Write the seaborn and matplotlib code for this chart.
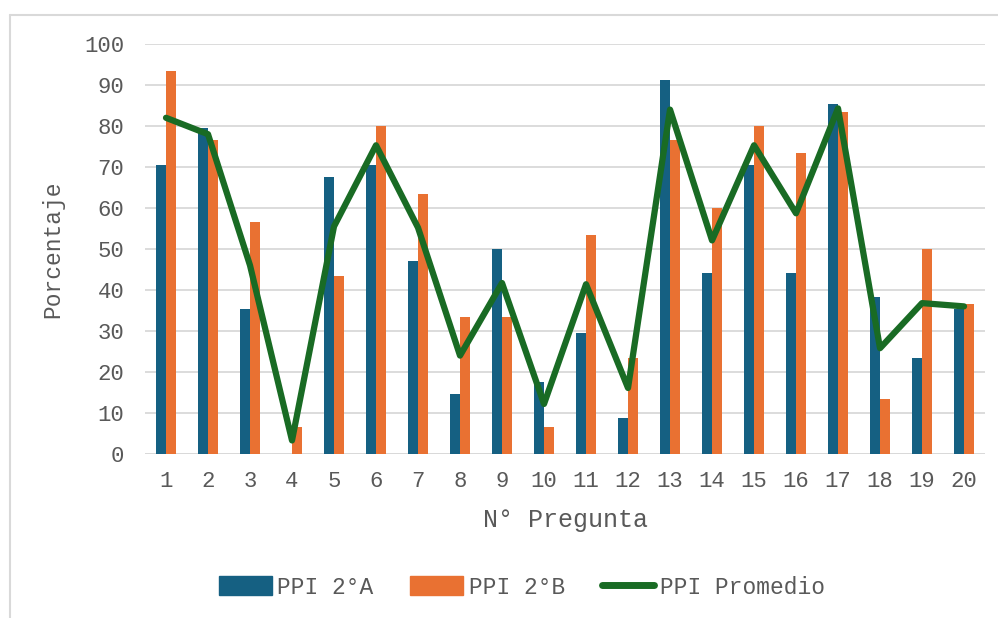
import numpy as np
import pandas as pd
import seaborn as sns
import matplotlib.pyplot as plt
from matplotlib.lines import Line2D
from matplotlib.patches import Patch

# data
preguntas = [str(i) for i in range(1, 21)]
ppi_2a = [70.6, 79.4, 35.3, 0.0, 67.6, 70.6, 47.1, 14.7, 50.0, 17.6,
          29.4, 8.8, 91.2, 44.1, 70.6, 44.1, 85.3, 38.2, 23.5, 35.3]
ppi_2b = [93.3, 76.7, 56.7, 6.7, 43.3, 80.0, 63.3, 33.3, 33.3, 6.7,
          53.3, 23.3, 76.7, 60.0, 80.0, 73.3, 83.3, 13.3, 50.0, 36.7]
ppi_prom = [82.0, 78.0, 46.0, 3.3, 55.5, 75.3, 55.2, 24.0, 41.7, 12.2,
            41.4, 16.1, 84.0, 52.1, 75.3, 58.7, 84.3, 25.8, 36.8, 36.0]

azul = '#156082'
naranja = '#E97132'
verde = '#196B24'
gris = '#595959'
grid_c = '#D9D9D9'

df = pd.DataFrame({'pregunta': preguntas * 2,
                   'valor': ppi_2a + ppi_2b,
                   'grupo': ['PPI 2°A'] * 20 + ['PPI 2°B'] * 20})

sns.set_style('white')
plt.rcParams['font.family'] = ['Liberation Mono', 'DejaVu Sans Mono']

fig = plt.figure(figsize=(9.98, 6.18), dpi=100)
ax = fig.add_axes([0.1453, 0.2654, 0.8417, 0.6634])

sns.barplot(data=df, x='pregunta', y='valor', hue='grupo',
            palette=[azul, naranja], saturation=1, width=0.476, gap=0,
            edgecolor='none', ax=ax, legend=False, zorder=3)
sns.lineplot(x=np.arange(20), y=ppi_prom, color=verde, linewidth=4.5,
             ax=ax, zorder=4, solid_capstyle='round', solid_joinstyle='round')

ax.set_xlim(-0.5, 19.5)
ax.set_ylim(0, 100)
ax.set_yticks(range(0, 101, 10))
ax.yaxis.grid(True, color=grid_c, linewidth=1.3, zorder=0)
ax.xaxis.grid(False)
for s in ax.spines.values():
    s.set_visible(False)
ax.axhline(0, color=grid_c, linewidth=1.3, zorder=2)

ax.tick_params(axis='y', length=0, pad=15, labelsize=16, labelcolor=gris)
ax.tick_params(axis='x', length=0, pad=12, labelsize=16, labelcolor=gris)
ax.set_ylabel('Porcentaje', fontsize=16.5, color=gris, labelpad=14)
ax.set_xlabel('N° Pregunta', fontsize=18, color=gris, labelpad=12)

handles = [Patch(color=azul), Patch(color=naranja),
           Line2D([0], [0], color=verde, linewidth=5)]
fig.legend(handles, ['PPI 2°A', 'PPI 2°B', 'PPI Promedio'],
           loc='center', bbox_to_anchor=(0.523, 0.05), ncol=3,
           frameon=False, fontsize=16.5, labelcolor=gris,
           handlelength=2.3, handleheight=0.9, handletextpad=0.25,
           columnspacing=1.6)

# chart frame (only left and top edges visible)
fig.add_artist(Line2D([10 / 998, 10 / 998], [0, 1 - 15 / 618],
                      color=grid_c, linewidth=1.5, transform=fig.transFigure))
fig.add_artist(Line2D([10 / 998, 1], [1 - 15 / 618, 1 - 15 / 618],
                      color=grid_c, linewidth=1.5, transform=fig.transFigure))

fig.savefig('out.png', dpi=100)
